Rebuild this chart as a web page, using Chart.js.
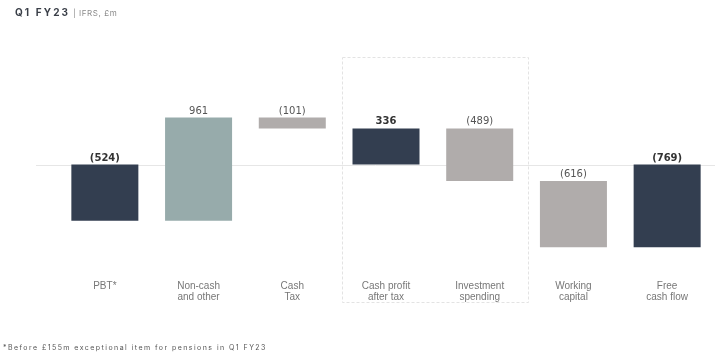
<!DOCTYPE html>
<html>
<head>
<meta charset="utf-8">
<script src="https://cdn.jsdelivr.net/npm/chart.js@4.4.0/dist/chart.umd.min.js"></script>
<style>
  html, body { margin: 0; padding: 0; background: #fff; }
  #wrap { position: relative; width: 727px; height: 354px; }
  #c { position: absolute; left: 0; top: 0; }
  #title { position: absolute; left: 15px; top: 0px; font-family: Inter, "DejaVu Sans", sans-serif; white-space: nowrap; }
  #title .main { font-size: 10px; font-weight: 700; letter-spacing: 2.1px; color: #3a3f48; }
  #title .sub { font-size: 8px; color: #8a8a8a; letter-spacing: 0.6px; }
  #note { position: absolute; left: 3px; top: 343px; font-family: Inter, "DejaVu Sans", sans-serif; font-size: 7px; letter-spacing: 1.45px; color: #555; white-space: nowrap; }
</style>
</head>
<body>
<div id="wrap">
  <canvas id="c" width="727" height="354"></canvas>
  <div id="title"><span class="main">Q1 FY23</span><span class="sub"> | IFRS, £m</span></div>
  <div id="note">*Before £155m exceptional item for pensions in Q1 FY23</div>
</div>
<script>
// ---- data ----
const categories = [["PBT*"], ["Non-cash", "and other"], ["Cash", "Tax"], ["Cash profit", "after tax"], ["Investment", "spending"], ["Working", "capital"], ["Free", "cash flow"]];
const values = [-524, 961, -101, 336, -489, -616, -769];
const isTotal = [true, false, false, true, false, false, true];
const kinds = ["total", "noncash", "step", "total", "step", "step", "total"];

// ---- build floating ranges ----
let running = 0;
const ranges = values.map((v, i) => {
  if (isTotal[i]) { running = v; return [0, v]; }
  const start = running; running = running + v; return [start, running];
});
const palette = { total: "#333e50", noncash: "#97abab", step: "#b0acab" };
const fmt = v => v < 0 ? "(" + Math.abs(v) + ")" : String(v);

const overlay = {
  id: "overlay",
  beforeDatasetsDraw(chart) {
    const { ctx, chartArea, scales } = chart;
    const y0 = scales.y.getPixelForValue(0);
    ctx.save();
    ctx.strokeStyle = "#e6e6e6";
    ctx.lineWidth = 1;
    ctx.beginPath();
    ctx.moveTo(36, Math.round(y0) + 0.5);
    ctx.lineTo(chartArea.right + 1, Math.round(y0) + 0.5);
    ctx.stroke();
    // dashed box around categories 3 and 4
    const x = scales.x;
    const half = (x.getPixelForValue(1) - x.getPixelForValue(0)) / 2;
    const left = x.getPixelForValue(3) - half + 3;
    const right = x.getPixelForValue(4) + half + 2;
    const top = chartArea.top;
    const bottom = 302;
    ctx.setLineDash([3, 2]);
    ctx.strokeStyle = "#e3e3e3";
    ctx.strokeRect(Math.round(left) + 0.5, Math.round(top) + 0.5, Math.round(right - left), Math.round(bottom - top));
    ctx.restore();
  },
  afterDatasetsDraw(chart) {
    const { ctx } = chart;
    const meta = chart.getDatasetMeta(0);
    ctx.save();
    ctx.textAlign = "center";
    ctx.textBaseline = "alphabetic";
    meta.data.forEach((bar, i) => {
      const topY = Math.min(bar.y, bar.base);
      ctx.font = (isTotal[i] ? "bold " : "") + "10px 'DejaVu Sans', sans-serif";
      ctx.fillStyle = isTotal[i] ? "#333" : "#555";
      ctx.fillText(fmt(values[i]), bar.x, topY - 4);
    });
    ctx.restore();
  }
};

new Chart(document.getElementById("c"), {
  type: "bar",
  data: {
    labels: categories,
    datasets: [{
      data: ranges,
      backgroundColor: kinds.map(k => palette[k]),
      borderWidth: 0,
      barPercentage: 0.715,
      categoryPercentage: 1.0
    }]
  },
  options: {
    responsive: false,
    animation: false,
    layout: { padding: { left: 58, right: 13, top: 57, bottom: 43 } },
    plugins: { legend: { display: false }, tooltip: { enabled: false } },
    scales: {
      x: {
        grid: { display: false, drawTicks: false },
        border: { display: false },
        ticks: {
          color: "#777",
          padding: 8,
          font: { family: "'Liberation Sans Narrow', 'Liberation Sans', sans-serif", size: 10, lineHeight: 1.15 },
          maxRotation: 0, autoSkip: false
        }
      },
      y: {
        display: false,
        min: -1000,
        max: 1000
      }
    }
  },
  plugins: [overlay]
});
</script>
</body>
</html>
